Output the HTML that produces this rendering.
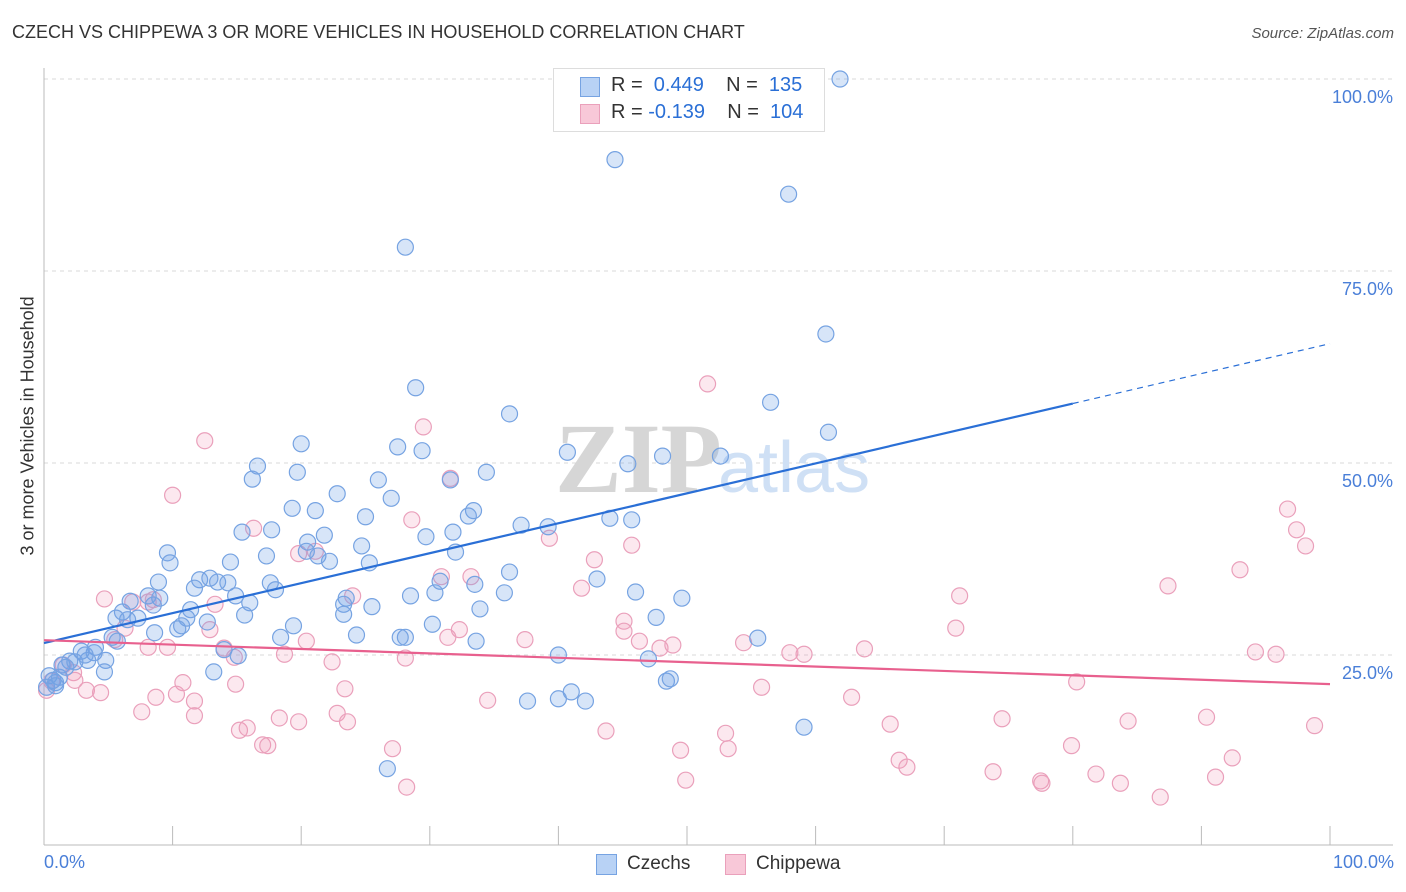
<!DOCTYPE html>
<html><head><meta charset="utf-8"><style>
body{margin:0;background:#fff;font-family:"Liberation Sans",sans-serif;}
#wrap{position:relative;width:1406px;height:892px;overflow:hidden;}
.t{position:absolute;white-space:nowrap;}
</style></head><body>
<div id="wrap">
<div class="t" style="left:12px;top:22px;font-size:18px;color:#333;">CZECH VS CHIPPEWA 3 OR MORE VEHICLES IN HOUSEHOLD CORRELATION CHART</div>
<div class="t" style="right:12px;top:25px;font-size:15px;color:#555;font-style:italic;">Source: ZipAtlas.com</div>
<svg id="svg" width="1406" height="892" style="position:absolute;left:0;top:0"></svg>
</div>
<script>
const blueX=[61.9,44.4,57.9,28.1,60.8,56.5,28.9,36.2,61.0,40.7,52.6,48.1,45.4,27.5,29.4,20.0,16.6,19.7,16.2,26.0,34.4,31.6,22.8,27.0,19.3,21.1,25.0,33.4,33.0,44.0,45.7,37.1,39.2,15.4,17.7,31.8,29.7,21.8,20.5,24.7,32.0,9.6,9.8,14.5,17.3,20.4,21.3,22.2,25.3,36.2,43.0,8.9,12.1,12.9,13.5,11.7,14.3,17.6,18.0,14.9,16.0,8.1,6.7,9.0,8.5,30.8,33.5,28.5,30.4,35.8,23.5,23.3,25.5,49.6,46.0,11.4,12.7,11.1,15.6,23.3,33.9,47.6,6.1,7.3,5.6,6.5,10.7,10.4,8.6,19.4,18.4,24.3,28.1,30.2,27.7,33.6,55.5,5.3,5.7,4.0,2.9,3.9,4.8,3.4,2.0,1.4,14.0,15.1,40.0,47.0,4.7,13.2,48.4,48.7,0.4,0.7,0.9,1.2,0.2,0.9,41.0,40.0,37.6,42.1,26.7,59.1,2.4,1.7,3.2];
const blueY=[100.0,89.5,85.0,78.1,66.8,57.9,59.8,56.4,54.0,51.4,50.9,50.9,49.9,52.1,51.6,52.5,49.6,48.8,47.9,47.8,48.8,47.8,46.0,45.4,44.1,43.8,43.0,43.8,43.1,42.8,42.6,41.9,41.7,41.0,41.3,41.0,40.4,40.6,39.7,39.2,38.4,38.3,37.0,37.1,37.9,38.5,37.9,37.2,37.0,35.8,34.9,34.5,34.8,35.0,34.5,33.7,34.4,34.4,33.5,32.7,31.8,32.7,32.0,32.4,31.5,34.6,34.2,32.7,33.1,33.1,32.4,31.6,31.3,32.4,33.2,30.9,29.3,29.8,30.2,30.3,31.0,29.9,30.6,29.8,29.8,29.6,28.8,28.4,27.9,28.8,27.3,27.6,27.3,29.0,27.3,26.8,27.2,27.3,26.8,26.0,25.5,25.3,24.3,24.3,24.2,23.7,25.7,24.9,25.0,24.5,22.8,22.8,21.6,21.9,22.3,21.7,21.4,22.1,20.8,21.0,20.2,19.3,19.0,19.0,10.2,15.6,24.1,23.4,25.0];
const pinkX=[51.6,29.5,31.6,12.5,10.0,28.6,39.3,45.7,16.3,21.1,19.8,42.8,93.0,87.4,41.8,30.9,33.2,71.2,96.7,97.4,98.1,4.7,6.9,8.1,8.5,13.3,24.0,6.3,12.9,70.9,45.1,45.1,32.3,31.4,37.4,46.3,47.9,48.9,54.4,58.0,59.1,63.8,94.2,95.8,18.7,20.4,5.5,8.1,9.6,14.0,14.8,22.4,28.1,1.5,2.3,2.4,3.3,4.4,10.8,14.9,23.4,34.5,8.7,10.3,7.6,11.7,11.7,55.8,62.8,80.3,15.2,15.8,18.3,19.8,22.8,23.6,43.7,65.8,74.5,84.3,90.4,98.8,17.0,17.4,27.1,49.5,53.0,53.2,79.9,92.4,66.5,67.1,73.8,81.8,91.1,49.9,77.5,77.6,83.7,86.8,28.2,0.2,0.6];
const pinkY=[60.3,54.7,48.0,52.9,45.8,42.6,40.2,39.3,41.5,38.5,38.2,37.4,36.1,34.0,33.7,35.2,35.2,32.7,44.0,41.3,39.2,32.3,31.9,31.9,32.2,31.6,32.7,28.5,28.3,28.5,29.4,28.1,28.3,27.3,27.0,26.8,25.9,26.3,26.6,25.3,25.1,25.8,25.4,25.1,25.1,26.8,27.0,26.0,26.0,25.9,24.7,24.1,24.6,23.7,22.7,21.7,20.4,20.1,21.4,21.2,20.6,19.1,19.5,19.9,17.6,19.0,17.1,20.8,19.5,21.5,15.2,15.5,16.8,16.3,17.4,16.3,15.1,16.0,16.7,16.4,16.9,15.8,13.3,13.2,12.8,12.6,14.8,12.8,13.2,11.6,11.3,10.4,9.8,9.5,9.1,8.7,8.6,8.3,8.3,6.5,7.8,20.4,21.6];
const yTicks=[25,50,75,100];
const yTickLabels=["25.0%","50.0%","75.0%","100.0%"];

const X0=44,X1=1330,Y0=847,PY=7.68;
const sx=v=>X0+(X1-X0)*v/100, sy=v=>Y0-v*PY;
const svg=document.getElementById('svg');
const NS='http://www.w3.org/2000/svg';
function mk(tag,attrs,parent){const e=document.createElementNS(NS,tag);for(const k in attrs)e.setAttribute(k,attrs[k]);(parent||svg).appendChild(e);return e;}

// gridlines
yTicks.forEach((t,i)=>{
  const g=mk('line',{x1:X0,x2:1393,y1:sy(t),y2:sy(t),stroke:'#d8d8d8','stroke-dasharray':'4,4'});
  
  
  const tx=mk('text',{x:1393,y:sy(t)+24,'text-anchor':'end','font-size':18,fill:'#4a7fd8','font-family':'Liberation Sans'});
  tx.textContent=yTickLabels[i];
  
  
});
// axes
const ax=mk('line',{x1:X0,x2:1393,y1:845,y2:845,stroke:'#bbb'});


const ay=mk('line',{x1:X0,x2:X0,y1:68,y2:845,stroke:'#bbb'});


for(let i=0;i<=10;i++){
  const tk=mk('line',{x1:sx(i*10),x2:sx(i*10),y1:826,y2:845,stroke:'#bbb'});
  
  
}
// watermark
const wm=mk('text',{x:555,y:492,'font-size':100,fill:'#d6d6d6','font-family':'Liberation Serif','font-weight':'bold'});
wm.textContent='ZIP';


const wm2=mk('text',{x:718,y:492,'font-size':72,fill:'#cfe0f5','font-family':'Liberation Sans'});
wm2.textContent='atlas';



function drawPts(xs,ys,fill,stroke,name){
  xs.forEach((x,i)=>{
    const c=mk('circle',{cx:sx(x),cy:sy(ys[i]),r:8,fill:fill,stroke:stroke,'stroke-width':1.2});
    
    
  });
}
drawPts(pinkX,pinkY,'rgba(240,150,180,0.22)','#eaa0bb','chippewa-point');
drawPts(blueX,blueY,'rgba(110,160,230,0.28)','#76a3e2','czech-point');

function reg(xs,ys){const n=xs.length;let mx=0,my=0;xs.forEach((x,i)=>{mx+=x;my+=ys[i];});mx/=n;my/=n;let sxy=0,sxx=0;xs.forEach((x,i)=>{sxy+=(x-mx)*(ys[i]-my);sxx+=(x-mx)**2;});const b=sxy/sxx;return [my-b*mx,b];}
const [ba,bb]=reg(blueX,blueY);
const bl=mk('line',{x1:sx(0),y1:sy(ba),x2:sx(80),y2:sy(ba+bb*80),stroke:'#2a6fd6','stroke-width':2.2});


const bd=mk('line',{x1:sx(80),y1:sy(ba+bb*80),x2:sx(100),y2:sy(ba+bb*100),stroke:'#2a6fd6','stroke-width':1.2,'stroke-dasharray':'6,5'});


const [pa,pb]=reg(pinkX,pinkY);
const pl=mk('line',{x1:sx(0),y1:sy(pa),x2:sx(100),y2:sy(pa+pb*100),stroke:'#e8608e','stroke-width':2.2});


</script>
<div class="t" style="left:44px;top:852px;font-size:18px;color:#4a7fd8;">0.0%</div>
<div class="t" style="right:12px;top:852px;font-size:18px;color:#4a7fd8;">100.0%</div>
<div class="t" style="left:-72px;top:445px;font-size:18px;color:#333;transform:rotate(-90deg);width:200px;text-align:center;">3 or more Vehicles in Household</div>
<div style="position:absolute;left:553px;top:68px;width:270px;height:62px;border:1px solid #ddd;background:#fff;font-size:20px;">
 <div style="position:absolute;left:26px;top:8px;width:18px;height:18px;background:#b8d2f5;border:1px solid #76a3e2;"></div>
 <div class="t" style="left:57px;top:5px;color:#333;">R = <span style="color:#2a6fd6">&nbsp;0.449</span>&nbsp;&nbsp;&nbsp; N = &nbsp;<span style="color:#2a6fd6">135</span></div>
 <div style="position:absolute;left:26px;top:35px;width:18px;height:18px;background:#f8c8d8;border:1px solid #eaa0bb;"></div>
 <div class="t" style="left:57px;top:32px;color:#333;">R = <span style="color:#2a6fd6">-0.139</span>&nbsp;&nbsp;&nbsp; N = &nbsp;<span style="color:#2a6fd6">104</span></div>
</div>
<div style="position:absolute;left:596px;top:853px;">
 <div style="position:absolute;left:0;top:1px;width:19px;height:19px;background:#b8d2f5;border:1px solid #76a3e2;"></div>
 <div class="t" style="left:31px;top:0;font-size:19px;color:#333;">Czechs</div>
</div>
<div style="position:absolute;left:725px;top:853px;">
 <div style="position:absolute;left:0;top:1px;width:19px;height:19px;background:#f8c8d8;border:1px solid #eaa0bb;"></div>
 <div class="t" style="left:31px;top:0;font-size:19px;color:#333;">Chippewa</div>
</div>
</body></html>
